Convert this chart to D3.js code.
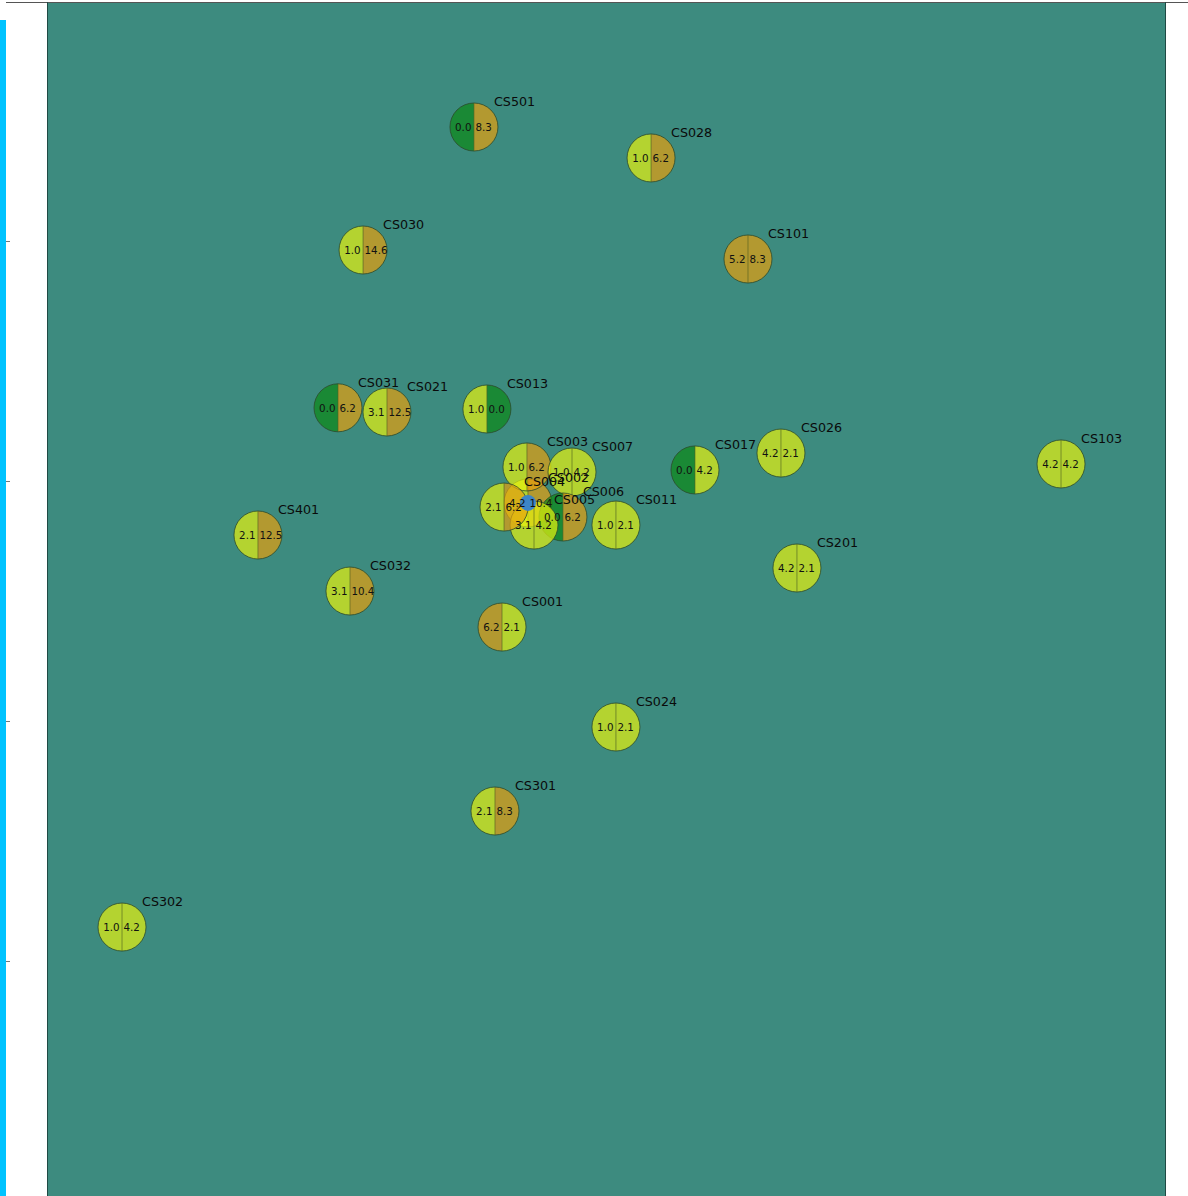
<!DOCTYPE html>
<meta charset="utf-8">
<style>
html, body { margin: 0; padding: 0; background: #fff; overflow: hidden; }
svg { display: block; }
.lab { font: 12.7px "DejaVu Sans", sans-serif; fill: #0a0a0a; }
.val { font: 10.3px "DejaVu Sans", sans-serif; fill: #111; dominant-baseline: central; }
.y.axis path { display: none; }
.y.axis line { stroke: #777; }
</style>
<body>
<script src="https://d3js.org/d3.v7.min.js"></script>
<script>

// stations, drawn in this order (later ones sit on top)
var names = ["CS501","CS028","CS030","CS101","CS031","CS021","CS013","CS002","CS003","CS007","CS017","CS026","CS103","CS006","CS005","CS004","CS011","CS401","CS032","CS201","CS001","CS024","CS301","CS302"];
var xs    = [38.19,54.03,28.27,62.70,26.03,30.41,39.35,43.02,42.93,46.96,57.96,65.65,90.70,46.15,43.56,40.88,50.89,18.87,27.10,67.08,40.70,50.89,40.07,6.71];
var ys    = [89.5,86.92,79.25,78.5,66.1,65.75,66.0,58.17,61.17,60.75,60.92,62.33,61.42,57.0,56.33,57.83,56.33,55.5,50.83,52.75,47.83,39.5,32.5,22.83];
var left  = [0.0,1.0,1.0,5.2,0.0,3.1,1.0,4.2,1.0,1.0,0.0,4.2,4.2,0.0,3.1,2.1,1.0,2.1,3.1,4.2,6.2,1.0,2.1,1.0];
var right = [8.3,6.2,14.6,8.3,6.2,12.5,0.0,10.4,6.2,4.2,4.2,2.1,4.2,6.2,4.2,6.2,2.1,12.5,10.4,2.1,2.1,2.1,8.3,4.2];
var yTicks = [80, 60, 40, 20];
var hub = "CS002";

var width = 1188, height = 1196, r = 24;

var x = d3.scaleLinear().domain([0, 100]).range([47, 1165]);
var y = d3.scaleLinear().domain([100, 0]).range([1, 1201]);
// wedges are see-through, so these give lime/ochre/green over the teal
var color = d3.scaleThreshold().domain([0.5, 5]).range(["#0b8915", "#e7f20e", "#e6a00e"]);

var svg = d3.select("body").append("svg")
    .attr("width", width)
    .attr("height", height);

// cyan strip left of the axes
svg.append("rect").attr("x", 0).attr("y", 20).attr("width", 6).attr("height", height - 20).attr("fill", "#00c3ff");

svg.append("rect").attr("x", 47).attr("y", 3).attr("width", 1118).attr("height", height)
    .attr("fill", "#3d8b7f");

svg.append("path").attr("fill", "none").attr("stroke", "#555")
    .attr("d", "M6,2.5H1188");
svg.append("path").attr("fill", "none").attr("stroke", "#1f4a44")
    .attr("d", "M47.5,2V1196M1165.5,2V1196");

svg.append("g")
    .attr("class", "y axis")
    .attr("transform", "translate(6,0)")
    .call(d3.axisRight(y).tickValues(yTicks).tickSize(4).tickFormat(""));

var arcL = d3.arc().innerRadius(0).outerRadius(r).startAngle(Math.PI).endAngle(2 * Math.PI);
var arcR = d3.arc().innerRadius(0).outerRadius(r).startAngle(0).endAngle(Math.PI);

function place(d, i) { return "translate(" + x(xs[i]) + "," + y(ys[i]) + ")"; }

var g = svg.selectAll(".station")
    .data(names)
  .enter().append("g")
    .attr("class", "station")
    .attr("transform", place);

g.append("path").attr("d", arcL).attr("fill", function(d, i) { return color(left[i]); }).attr("fill-opacity", 0.7);
g.append("path").attr("d", arcR).attr("fill", function(d, i) { return color(right[i]); }).attr("fill-opacity", 0.7);
g.append("circle").attr("r", r).attr("fill", "none").attr("stroke", "#2c4a2c").attr("stroke-opacity", 0.8);
g.append("line").attr("y1", -r).attr("y2", r).attr("stroke", "#4f5d20").attr("stroke-opacity", 0.6);

// blue marker on the hub station, above every wedge
svg.selectAll(".hub")
    .data(names)
  .enter().filter(function(d) { return d === hub; }).append("circle")
    .attr("class", "hub")
    .attr("transform", function(d) { var i = names.indexOf(d); return place(d, i); })
    .attr("r", 8)
    .attr("fill", "#3d85c6");

// all text goes on top of the marks
var t = svg.selectAll(".labels")
    .data(names)
  .enter().append("g")
    .attr("class", "labels")
    .attr("transform", place);

t.append("text").attr("class", "val").attr("x", -2.5).attr("text-anchor", "end").text(function(d, i) { return left[i].toFixed(1); });
t.append("text").attr("class", "val").attr("x", 1.5).attr("text-anchor", "start").text(function(d, i) { return right[i].toFixed(1); });
t.append("text").attr("class", "lab").attr("x", 20).attr("y", -20.7).text(function(d) { return d; });

</script>
